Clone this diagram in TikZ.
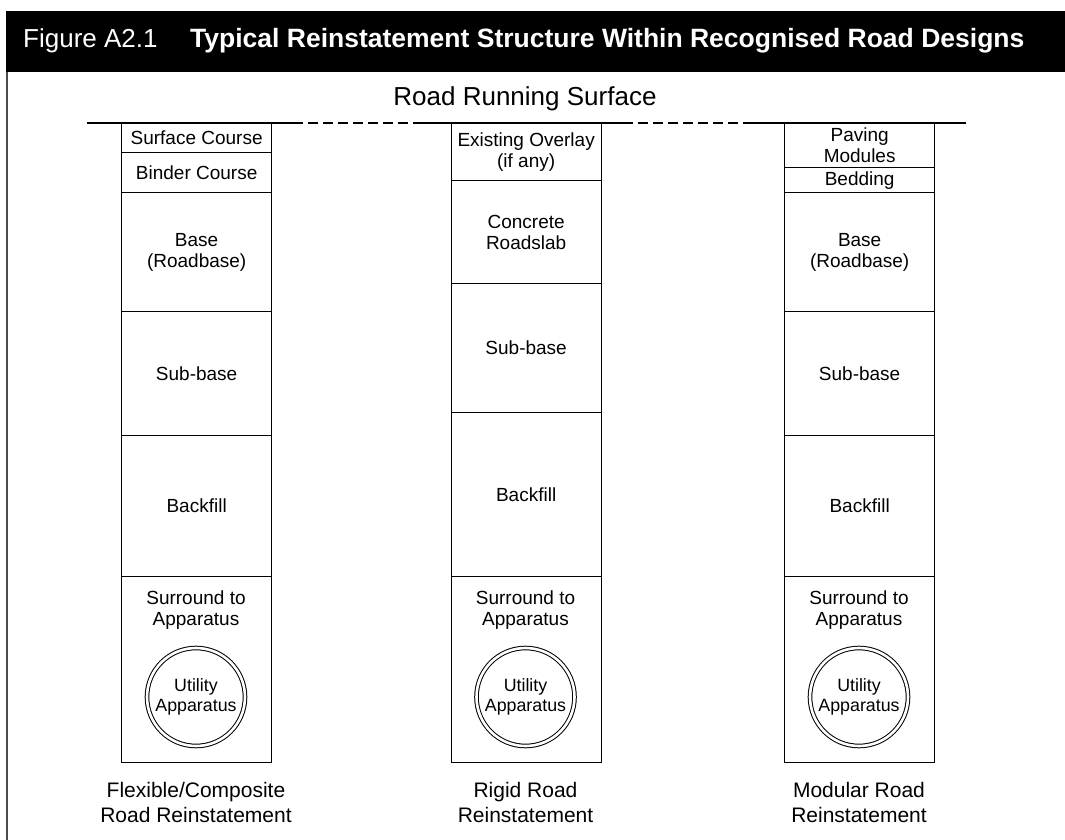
\documentclass[tikz,border=0pt]{standalone}
\usepackage{fontspec}
\setmainfont{Liberation Sans}
\tikzset{
  x=1bp, y=-1bp,
  layer/.style={draw, line width=1.3bp, anchor=north west, inner sep=0pt,
    minimum width=150bp, align=center,
    font=\fontsize{19bp}{21bp}\selectfont},
  boxtext/.style={align=center, inner sep=0pt,
    font=\fontsize{19bp}{21bp}\selectfont},
  pipe/.style={circle, draw, line width=1bp, double, double distance=2.6bp,
    minimum size=98bp, inner sep=0pt, align=center,
    font=\fontsize{17.8bp}{20bp}\selectfont},
  caption/.style={align=center, inner sep=0pt,
    font=\fontsize{21bp}{25bp}\selectfont},
  roadline/.style={line width=2.6bp},
  roaddash/.style={line width=1.4bp, dash pattern=on 10bp off 5bp},
}
\begin{document}
\begin{tikzpicture}
\useasboundingbox (0,0) rectangle (1065,840);
\fill[white] (0,0) rectangle (1065,840);

% title bar
\fill[black] (6,11) rectangle (1065,72);
\node[anchor=west, inner sep=0pt, text=white, font=\fontsize{26bp}{28bp}\selectfont] (fig) at (23,41) {Figure A2.1};
\node[anchor=west, inner sep=0pt, text=white, font=\fontsize{26.5bp}{28bp}\selectfont\bfseries] (title) at (190,41) {Typical Reinstatement Structure Within Recognised Road Designs};
\draw[line width=2bp, black!70] (7,72) -- (7,840);

% road running surface
\node[inner sep=0pt, font=\fontsize{26bp}{30bp}\selectfont] (surf) at (525,99) {Road Running Surface};
\coordinate (r0) at (87,123);
\coordinate (r1) at (293,123);
\coordinate (r2) at (413,123);
\coordinate (r3) at (623,123);
\coordinate (r4) at (752,123);
\coordinate (r5) at (966,123);
\draw[roadline] (r0) -- (r1);
\draw[roaddash] (r1) -- (r2);
\draw[roadline] (r2) -- (r3);
\draw[roaddash] (r3) -- (r4);
\draw[roadline] (r4) -- (r5);

% flexible / composite construction
\node[layer, minimum height=29bp] (a1) at (121,123) {Surface Course};
\node[layer, minimum height=40bp] (a2) at (121,152) {Binder Course};
\node[layer, minimum height=119bp] (a3) at (121,192) {Base\\(Roadbase)};
\node[layer, minimum height=124bp] (a4) at (121,311) {Sub-base};
\node[layer, minimum height=141bp] (a5) at (121,435) {Backfill};
\node[layer, minimum height=186bp] (a6) at (121,576) {};
\node[boxtext] (a6t) at (196,610) {Surround to\\Apparatus};
\node[pipe] (a7) at (196,697) {Utility\\Apparatus};
\node[caption] (a8) at (196,802) {Flexible/Composite\\Road Reinstatement};

% rigid construction
\node[layer, minimum height=57bp] (b1) at (450.5,123) {Existing Overlay\\(if any)};
\node[layer, minimum height=103bp] (b2) at (450.5,180) {Concrete\\Roadslab};
\node[layer, minimum height=129bp] (b3) at (450.5,283) {Sub-base};
\node[layer, minimum height=164bp] (b4) at (450.5,412) {Backfill};
\node[layer, minimum height=186bp] (b5) at (450.5,576) {};
\node[boxtext] (b5t) at (525.5,610) {Surround to\\Apparatus};
\node[pipe] (b6) at (525.5,697) {Utility\\Apparatus};
\node[caption] (b7) at (525.5,802) {Rigid Road\\Reinstatement};

% modular construction
\node[layer, minimum height=44bp] (c1) at (784,123) {Paving\\Modules};
\node[layer, minimum height=25bp] (c2) at (784,167) {Bedding};
\node[layer, minimum height=119bp] (c3) at (784,192) {Base\\(Roadbase)};
\node[layer, minimum height=124bp] (c4) at (784,311) {Sub-base};
\node[layer, minimum height=141bp] (c5) at (784,435) {Backfill};
\node[layer, minimum height=186bp] (c6) at (784,576) {};
\node[boxtext] (c6t) at (859,610) {Surround to\\Apparatus};
\node[pipe] (c7) at (859,697) {Utility\\Apparatus};
\node[caption] (c8) at (859,802) {Modular Road\\Reinstatement};
\end{tikzpicture}
\end{document}
